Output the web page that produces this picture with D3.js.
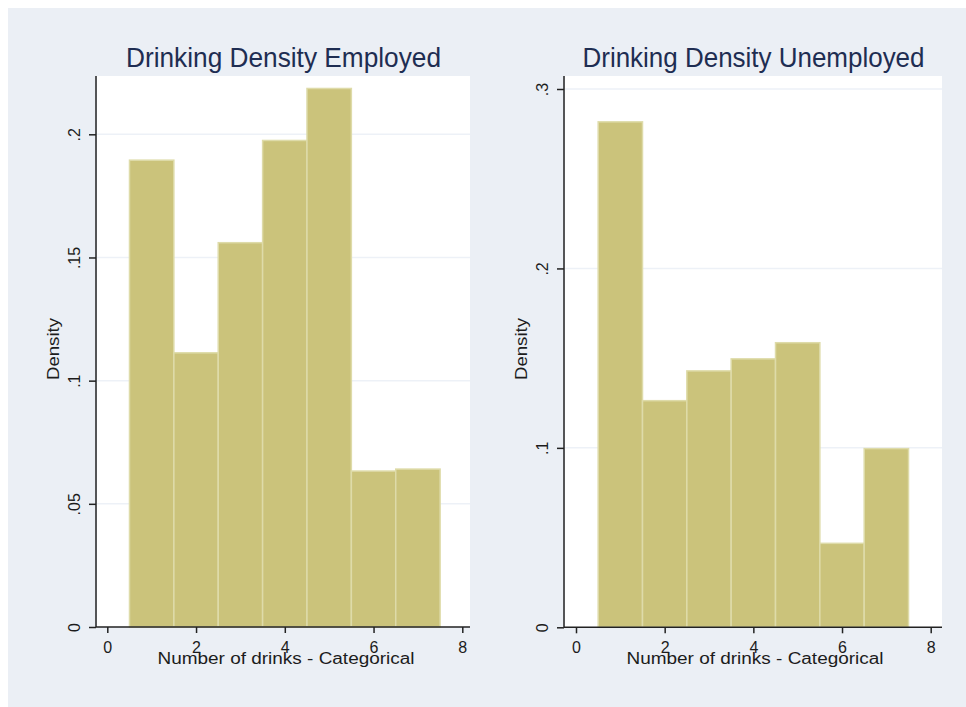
<!DOCTYPE html>
<html>
<head>
<meta charset="utf-8">
<script src="https://cdn.jsdelivr.net/npm/d3@7"></script>
<style>
  html, body { margin: 0; padding: 0; background: #ffffff; }
  svg { display: block; }
  text { font-family: "Liberation Sans", Arial, sans-serif; }
</style>
</head>
<body>
<svg id="chart" width="966" height="707"></svg>
<script>
// Number-of-drinks categories (bins centred on integers 1..7)
const drinkCategories = [1, 2, 3, 4, 5, 6, 7];

// Histogram densities per category
const densityEmployed   = [0.1895, 0.1113, 0.1560, 0.1975, 0.2186, 0.0633, 0.0641];
const densityUnemployed = [0.2817, 0.1263, 0.1429, 0.1496, 0.1586, 0.0468, 0.0996];

// Axis ticks
const xTicks = [0, 2, 4, 6, 8];
const yTicksEmployed   = [0, 0.05, 0.1, 0.15, 0.2];
const yTicksUnemployed = [0, 0.1, 0.2, 0.3];

const panelTitles = ["Drinking Density Employed", "Drinking Density Unemployed"];
const xAxisTitle = "Number of drinks - Categorical";
const yAxisTitle = "Density";

const svg = d3.select("#chart");

// Graph region background
svg.append("rect")
  .attr("x", 8).attr("y", 8)
  .attr("width", 958).attr("height", 699)
  .attr("fill", "#ebeff5");

const fmt = v => v === 0 ? "0" : String(v).replace(/^0/, "");

function drawPanel(cfg) {
  const g = svg.append("g");
  const x = d3.scaleLinear().domain([0, 8]).range(cfg.xRange);
  const y = d3.scaleLinear().domain([0, cfg.yMaxTick]).range(cfg.yRange);

  // plot region
  g.append("rect")
    .attr("x", cfg.left).attr("y", cfg.top)
    .attr("width", cfg.right - cfg.left).attr("height", cfg.yRange[0] - cfg.top)
    .attr("fill", "#ffffff");

  // horizontal grid lines
  g.append("g").selectAll("line")
    .data(cfg.yTicks.filter(d => d > 0))
    .join("line")
    .attr("x1", cfg.left).attr("x2", cfg.right)
    .attr("y1", d => y(d)).attr("y2", d => y(d))
    .attr("stroke", "#edf1f7").attr("stroke-width", 1.5);

  // histogram bars (bin width 1, centred on category)
  g.append("g").selectAll("rect")
    .data(cfg.values)
    .join("rect")
    .attr("x", (d, i) => x(drinkCategories[i] - 0.5))
    .attr("width", (d, i) => x(drinkCategories[i] + 0.5) - x(drinkCategories[i] - 0.5))
    .attr("y", d => y(d))
    .attr("height", d => y(0) - y(d))
    .attr("fill", "#cbc37b")
    .attr("stroke", "#dedba9")
    .attr("stroke-width", 1.5);

  // y axis
  const yAxis = g.append("g")
    .attr("transform", `translate(${cfg.left - 1},0)`)
    .call(d3.axisLeft(y).tickValues(cfg.yTicks).tickSize(7).tickFormat(fmt));
  yAxis.select(".domain").attr("d", `M0,${cfg.top}V${cfg.yRange[0]}`)
    .attr("stroke", "#222").attr("stroke-width", 1.5);
  yAxis.selectAll(".tick line").attr("stroke", "#222").attr("stroke-width", 1.5);
  yAxis.selectAll(".tick text")
    .attr("x", null).attr("dy", null)
    .attr("transform", "translate(-16,0) rotate(-90)")
    .attr("text-anchor", "middle")
    .attr("font-family", "Liberation Sans, Arial, sans-serif")
    .attr("font-size", 16)
    .attr("fill", "#1c1c1c");

  // x axis
  const xAxis = g.append("g")
    .attr("transform", `translate(0,${cfg.yRange[0]})`)
    .call(d3.axisBottom(x).tickValues(xTicks).tickSize(6).tickFormat(d3.format("d")));
  xAxis.select(".domain").attr("d", `M${cfg.left - 1},0H${cfg.right}`)
    .attr("stroke", "#222").attr("stroke-width", 1.5);
  xAxis.selectAll(".tick line").attr("stroke", "#222").attr("stroke-width", 1.5);
  xAxis.selectAll(".tick text")
    .attr("y", 26).attr("dy", null)
    .attr("font-family", "Liberation Sans, Arial, sans-serif")
    .attr("font-size", 16)
    .attr("fill", "#1c1c1c");

  // panel title
  const cx = (cfg.left + cfg.right) / 2;
  g.append("text")
    .attr("x", cx).attr("y", 67)
    .attr("text-anchor", "middle")
    .attr("font-size", 28)
    .attr("textLength", cfg.titleWidth)
    .attr("lengthAdjust", "spacingAndGlyphs")
    .attr("fill", "#1e2d52")
    .text(cfg.title);

  // x axis title
  g.append("text")
    .attr("x", cfg.xTitleX).attr("y", 664)
    .attr("text-anchor", "middle")
    .attr("font-size", 16)
    .attr("textLength", 257)
    .attr("lengthAdjust", "spacingAndGlyphs")
    .attr("fill", "#1c1c1c")
    .text(xAxisTitle);

  // y axis title
  g.append("text")
    .attr("transform", `translate(${cfg.yTitleX},${349}) rotate(-90)`)
    .attr("text-anchor", "middle")
    .attr("font-size", 16)
    .attr("textLength", 62)
    .attr("lengthAdjust", "spacingAndGlyphs")
    .attr("fill", "#1c1c1c")
    .text(yAxisTitle);
}

drawPanel({
  values: densityEmployed,
  yTicks: yTicksEmployed,
  yMaxTick: 0.2,
  left: 97, right: 470, top: 76,
  xRange: [107.3, 462.3],
  yRange: [627, 134.3],
  title: panelTitles[0], titleWidth: 315,
  xTitleX: 286, yTitleX: 58.5
});

drawPanel({
  values: densityUnemployed,
  yTicks: yTicksUnemployed,
  yMaxTick: 0.3,
  left: 565, right: 942, top: 76,
  xRange: [576, 930.7],
  yRange: [627.3, 89],
  title: panelTitles[1], titleWidth: 342,
  xTitleX: 755, yTitleX: 527
});
</script>
</body>
</html>
